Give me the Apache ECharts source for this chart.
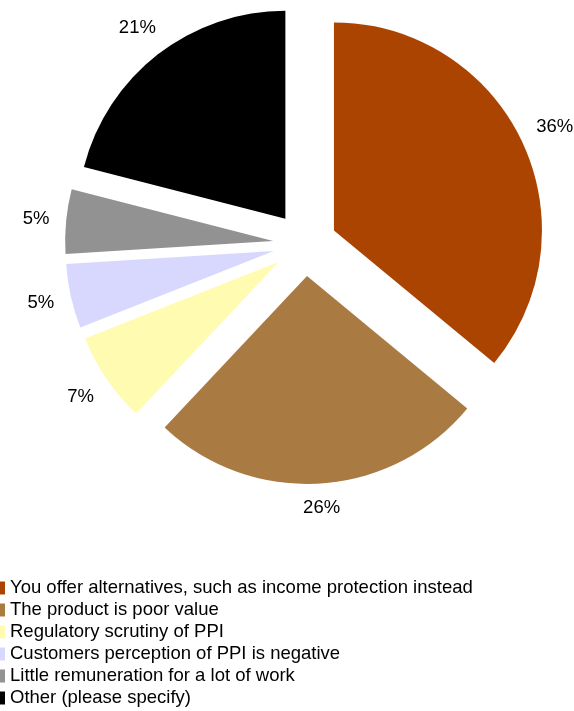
<!DOCTYPE html>
<html>
<head>
<meta charset="utf-8">
<script src="https://cdn.jsdelivr.net/npm/echarts@6/dist/echarts.min.js"></script>
<style>
  html, body { margin: 0; padding: 0; background: #ffffff; }
  #chart { width: 574px; height: 711px; }
</style>
</head>
<body>
<div id="chart"></div>
<script>
// Reasons given for not selling PPI (share of responses, %)
const categories = [
  'You offer alternatives, such as income protection instead',
  'The product is poor value',
  'Regulatory scrutiny of PPI',
  'Customers perception of PPI is negative',
  'Little remuneration for a lot of work',
  'Other (please specify)'
];
const shares = [36, 26, 7, 5, 5, 21];
const sliceColors = ['#AA4400', '#AA7A43', '#FFFBB0', '#D8D8FF', '#929292', '#000000'];

const CX = 305, CY = 244, R = 208, EXPLODE = 32, LABEL_GAP = 16;
const FONT_FAMILY = '"Liberation Sans", Arial, sans-serif';
const FONT_SIZE = 18.5;

// Percent labels sit just outside each exploded slice, along its mid angle
const total = shares.reduce((a, b) => a + b, 0);
const measureCtx = document.createElement('canvas').getContext('2d');
measureCtx.font = FONT_SIZE + 'px ' + FONT_FAMILY;
const percentLabels = [];
let acc = 0;
shares.forEach(v => {
  const a = (acc + v / 2) / total * 2 * Math.PI;
  acc += v;
  const text = v + '%';
  const dx = Math.sin(a), dy = -Math.cos(a);
  const hw = measureCtx.measureText(text).width / 2, hh = FONT_SIZE * 0.42;
  const d = EXPLODE + R + LABEL_GAP + hw * Math.abs(dx) + hh * Math.abs(dy);
  percentLabels.push({
    type: 'text',
    x: CX + dx * d,
    y: CY + dy * d,
    silent: true,
    style: {
      text: text,
      fill: '#000000',
      font: FONT_SIZE + 'px ' + FONT_FAMILY,
      align: 'center',
      verticalAlign: 'middle'
    }
  });
});

const chart = echarts.init(document.getElementById('chart'), null, { renderer: 'canvas' });

chart.setOption({
  animation: false,
  backgroundColor: '#ffffff',
  legend: {
    orient: 'vertical',
    left: -1,
    top: 577,
    padding: 0,
    itemWidth: 6,
    itemHeight: 13,
    itemGap: 0,
    icon: 'rect',
    selectedMode: false,
    textStyle: { fontFamily: FONT_FAMILY, fontSize: FONT_SIZE, color: '#000000', lineHeight: 22 },
    data: categories
  },
  graphic: percentLabels,
  series: [{
    type: 'pie',
    center: [CX, CY],
    radius: R,
    startAngle: 90,
    clockwise: true,
    selectedMode: 'multiple',
    selectedOffset: EXPLODE,
    emphasis: { disabled: true },
    select: { itemStyle: { borderWidth: 0 } },
    label: { show: false },
    labelLine: { show: false },
    data: categories.map((name, i) => ({
      name: name,
      value: shares[i],
      selected: true,
      itemStyle: { color: sliceColors[i] }
    }))
  }]
});
</script>
</body>
</html>
